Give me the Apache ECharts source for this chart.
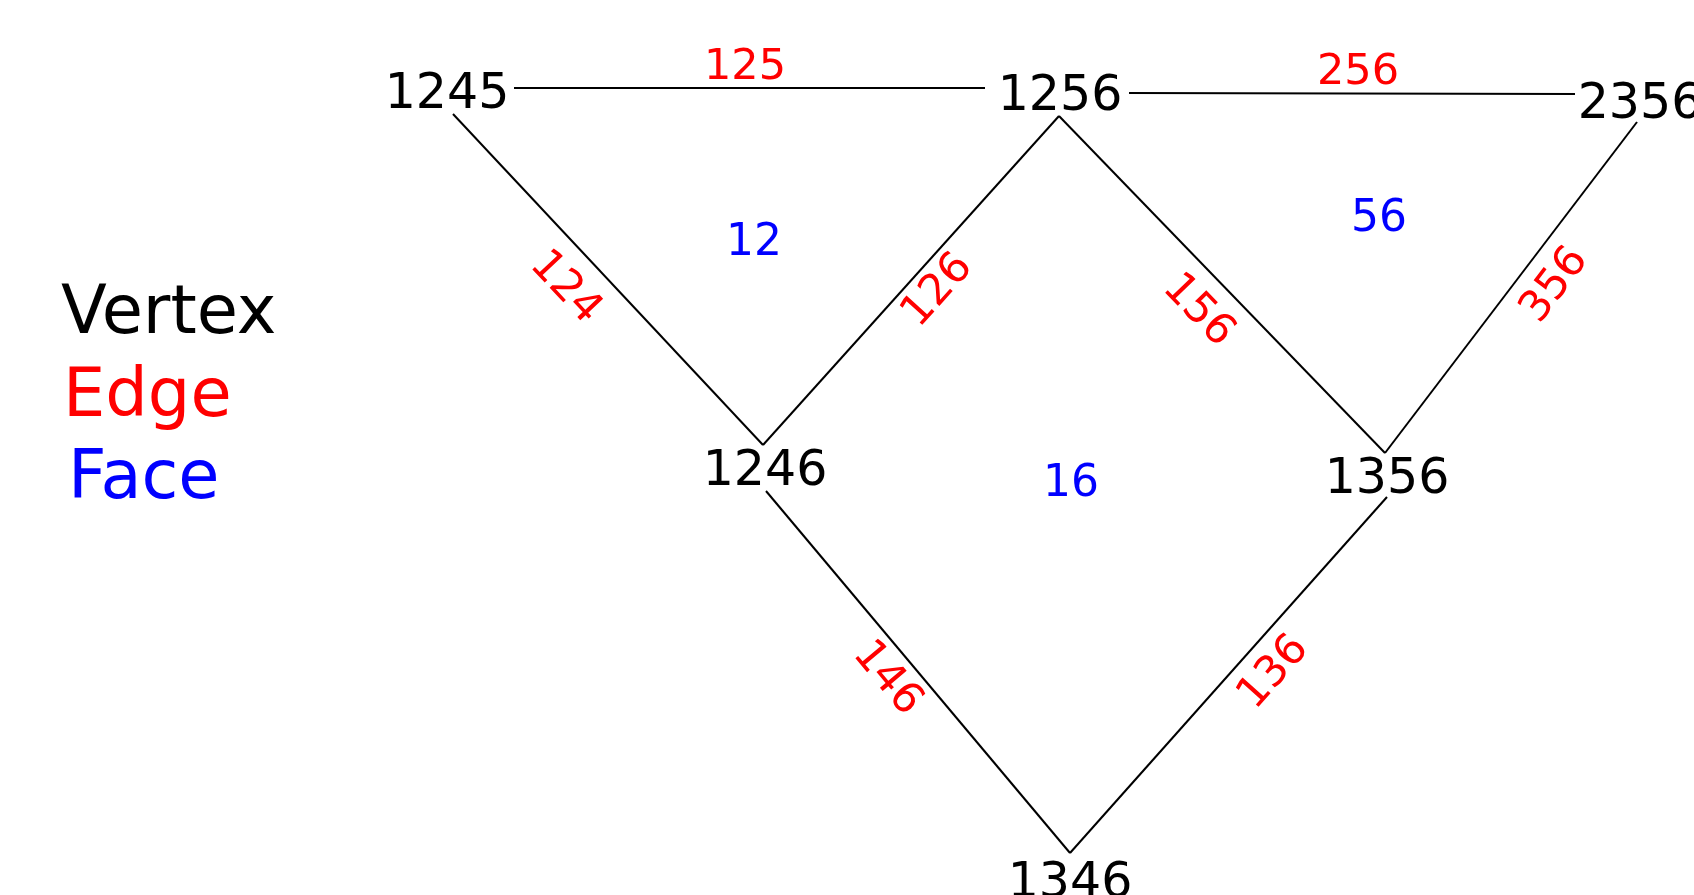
<!DOCTYPE html>
<html>
<head>
<meta charset="utf-8">
<script src="https://cdn.jsdelivr.net/npm/echarts@6/dist/echarts.min.js"></script>
<style>
html,body{margin:0;padding:0;background:#fff;}
#chart{width:1694px;height:895px;}
</style>
</head>
<body>
<div id="chart"></div>
<script>
// Vertices (label centres)
const vertexNames = ['1245', '1256', '2356', '1246', '1356', '1346'];
const vertexX = [447, 1060, 1640, 765, 1387, 1070];
const vertexY = [91, 93, 101, 468, 476, 880];

// Edges: drawn segments and their labels
const edgeNames = ['125', '256', '124', '126', '156', '356', '146', '136'];
const edgeX1 = [514, 1129, 453, 763, 1059, 1637, 766, 1387];
const edgeY1 = [88, 93, 114, 445, 116, 122, 491, 497];
const edgeX2 = [985, 1575, 763, 1059, 1385, 1385, 1070, 1070];
const edgeY2 = [88, 94, 445, 116, 453, 453, 853, 853];
const edgeLabelX = [745, 1358, 568, 935, 1201, 1552, 890, 1271];
const edgeLabelY = [64, 69, 285, 288, 308, 283, 676, 670];

// Faces
const faceNames = ['12', '56', '16'];
const faceX = [754, 1379, 1071];
const faceY = [240, 216, 481];

// Legend
const legendNames = ['Vertex', 'Edge', 'Face'];
const legendColors = ['#000000', '#ff0000', '#0000ff'];

const FONT = 'DejaVu Sans';

function edgeRotation(i) {
  let dx = edgeX2[i] - edgeX1[i];
  let dy = edgeY2[i] - edgeY1[i];
  if (dx < 0) { dx = -dx; dy = -dy; }
  if (Math.abs(dy) < 3) return 0;
  return -Math.atan2(dy, dx) * 180 / Math.PI;
}

const chart = echarts.init(document.getElementById('chart'), null, {renderer: 'canvas'});

function labelSeries(name, names, xs, ys, color, size, rot) {
  return {
    type: 'scatter',
    name: name,
    symbolSize: 0,
    silent: true,
    itemStyle: {opacity: 1},
    data: names.map((n, i) => ({
      value: [xs[i], ys[i]], name: n,
      label: rot ? {rotate: rot(i)} : {}
    })),
    label: {
      show: true, position: 'inside', formatter: p => p.name,
      color: color, opacity: 1, fontSize: size, fontFamily: FONT,
      offset: [0, 4]
    }
  };
}

const option = {
  backgroundColor: '#ffffff',
  animation: false,
  grid: {left: 0, right: 0, top: 0, bottom: 0, containLabel: false},
  xAxis: {type: 'value', min: 0, max: 1694, show: false},
  yAxis: {type: 'value', min: 0, max: 895, inverse: true, show: false},
  series: [
    {
      type: 'lines',
      coordinateSystem: 'cartesian2d',
      silent: true,
      lineStyle: {color: '#000000', width: 2, opacity: 1, curveness: 0},
      data: edgeNames.map((n, i) => ({coords: [[edgeX1[i], edgeY1[i]], [edgeX2[i], edgeY2[i]]]}))
    },
    labelSeries('Vertex', vertexNames, vertexX, vertexY, '#000000', 49),
    labelSeries('Edge', edgeNames, edgeLabelX, edgeLabelY, '#ff0000', 43, edgeRotation),
    labelSeries('Face', faceNames, faceX, faceY, '#0000ff', 44)
  ],
  graphic: legendNames.map((n, i) => ({
    type: 'text',
    left: [61, 63, 68][i],
    top: [282, 365, 447][i],
    silent: true,
    style: {
      text: n,
      fill: legendColors[i],
      font: '67px "' + FONT + '"'
    }
  }))
};

chart.setOption(option);
</script>
</body>
</html>
